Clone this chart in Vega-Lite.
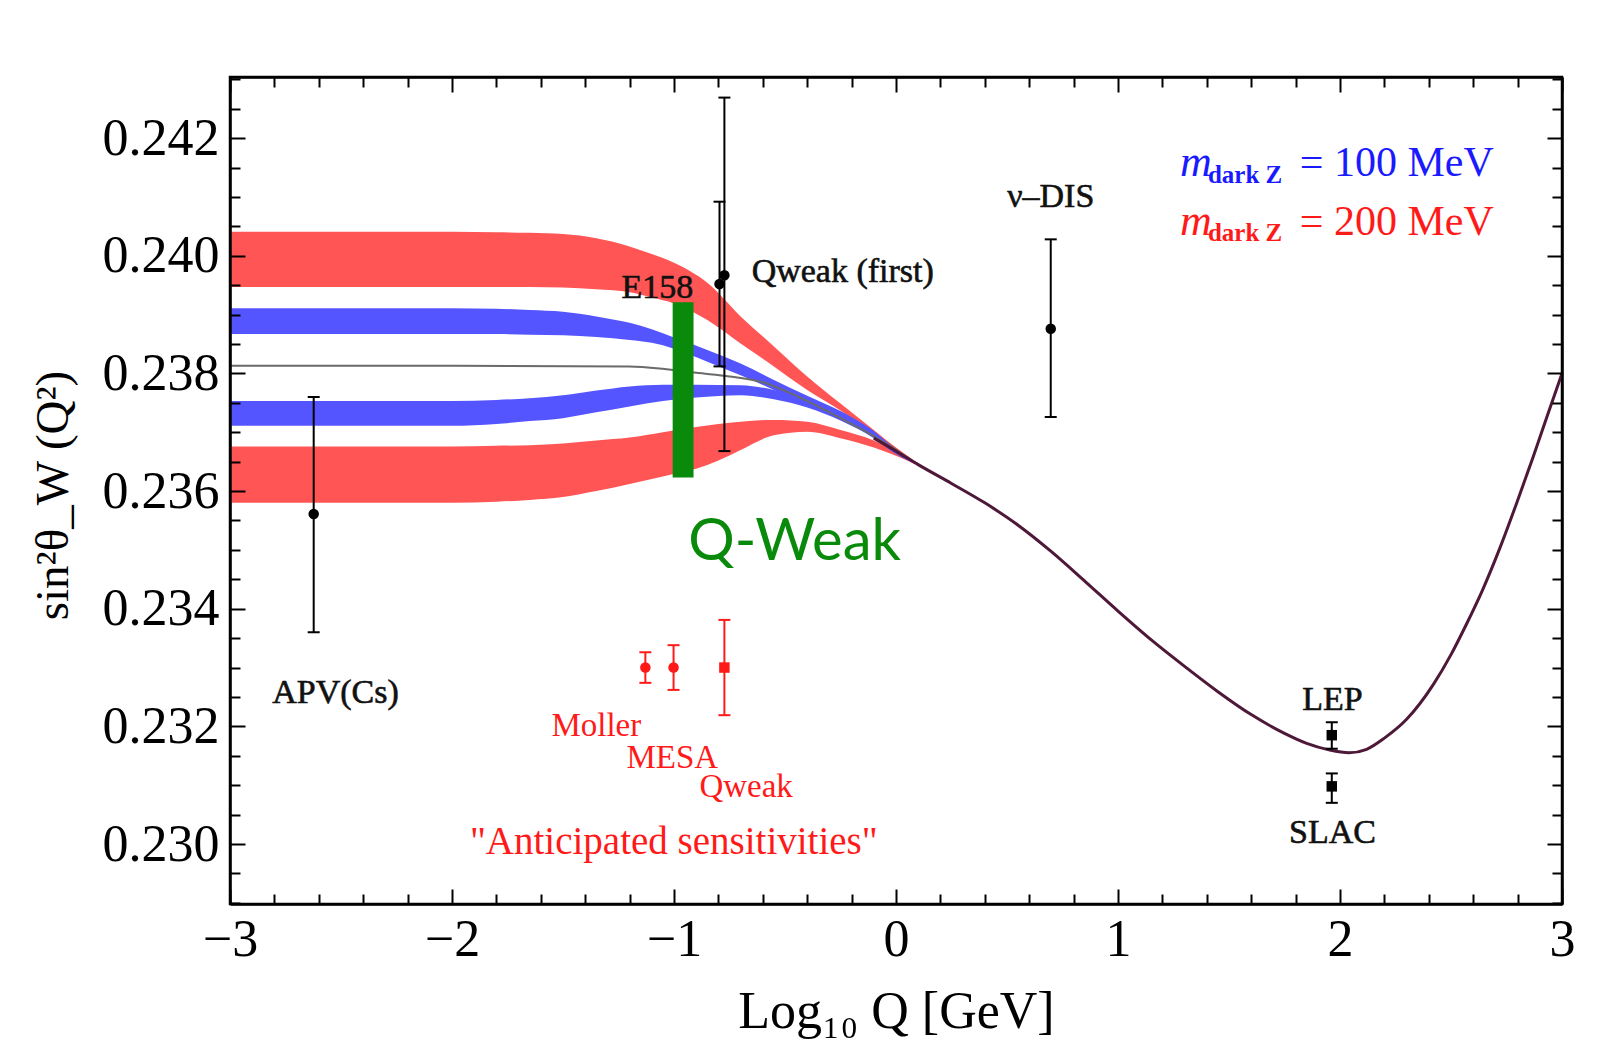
{
  "$schema": "https://vega.github.io/schema/vega-lite/v6.json",
  "width": 1332,
  "height": 827,
  "autosize": {"type": "none"},
  "padding": {"left": 230, "top": 77, "right": 48, "bottom": 160},
  "background": "white",
  "config": {
    "view": {"stroke": "black", "strokeWidth": 2.5},
    "font": "Liberation Serif"
  },
  "datasets": {
    "bands": [
      {"band": "RU", "x": -3, "lo": 0.23947, "hi": 0.24041},
      {"band": "RU", "x": -2.5, "lo": 0.23947, "hi": 0.24041},
      {"band": "RU", "x": -2, "lo": 0.23947, "hi": 0.24041},
      {"band": "RU", "x": -1.8, "lo": 0.23947, "hi": 0.2404},
      {"band": "RU", "x": -1.65, "lo": 0.23947, "hi": 0.24039},
      {"band": "RU", "x": -1.5, "lo": 0.23946, "hi": 0.24037},
      {"band": "RU", "x": -1.35, "lo": 0.23943, "hi": 0.2403},
      {"band": "RU", "x": -1.2, "lo": 0.23938, "hi": 0.24016},
      {"band": "RU", "x": -1.1, "lo": 0.23929, "hi": 0.24003},
      {"band": "RU", "x": -1.0, "lo": 0.23919, "hi": 0.23988},
      {"band": "RU", "x": -0.85, "lo": 0.23891, "hi": 0.23954},
      {"band": "RU", "x": -0.7, "lo": 0.23851, "hi": 0.23897},
      {"band": "RU", "x": -0.55, "lo": 0.23812, "hi": 0.23846},
      {"band": "RU", "x": -0.4, "lo": 0.23772, "hi": 0.23795},
      {"band": "RU", "x": -0.25, "lo": 0.23737, "hi": 0.23749},
      {"band": "RU", "x": -0.1, "lo": 0.23695, "hi": 0.23704},
      {"band": "RU", "x": 0, "lo": 0.23666, "hi": 0.23674},
      {"band": "RU", "x": 0.1, "lo": 0.23644, "hi": 0.23647},
      {"band": "RL", "x": -3, "lo": 0.2358, "hi": 0.23676},
      {"band": "RL", "x": -2.5, "lo": 0.2358, "hi": 0.23676},
      {"band": "RL", "x": -2, "lo": 0.2358, "hi": 0.23676},
      {"band": "RL", "x": -1.8, "lo": 0.23582, "hi": 0.23677},
      {"band": "RL", "x": -1.65, "lo": 0.23585, "hi": 0.23678},
      {"band": "RL", "x": -1.5, "lo": 0.2359, "hi": 0.23681},
      {"band": "RL", "x": -1.35, "lo": 0.236, "hi": 0.23686},
      {"band": "RL", "x": -1.2, "lo": 0.23612, "hi": 0.23691},
      {"band": "RL", "x": -1.05, "lo": 0.23625, "hi": 0.237},
      {"band": "RL", "x": -0.9, "lo": 0.23638, "hi": 0.23709},
      {"band": "RL", "x": -0.8, "lo": 0.23652, "hi": 0.23714},
      {"band": "RL", "x": -0.7, "lo": 0.2367, "hi": 0.23718},
      {"band": "RL", "x": -0.55, "lo": 0.23695, "hi": 0.23721},
      {"band": "RL", "x": -0.4, "lo": 0.23701, "hi": 0.23718},
      {"band": "RL", "x": -0.25, "lo": 0.2369, "hi": 0.23704},
      {"band": "RL", "x": -0.1, "lo": 0.23674, "hi": 0.23686},
      {"band": "RL", "x": 0, "lo": 0.2366, "hi": 0.23667},
      {"band": "RL", "x": 0.1, "lo": 0.23643, "hi": 0.23647},
      {"band": "BU", "x": -3, "lo": 0.23867, "hi": 0.23911},
      {"band": "BU", "x": -2.5, "lo": 0.23867, "hi": 0.23911},
      {"band": "BU", "x": -2, "lo": 0.23867, "hi": 0.23911},
      {"band": "BU", "x": -1.8, "lo": 0.23867, "hi": 0.2391},
      {"band": "BU", "x": -1.65, "lo": 0.23866, "hi": 0.23908},
      {"band": "BU", "x": -1.5, "lo": 0.23865, "hi": 0.23905},
      {"band": "BU", "x": -1.35, "lo": 0.23862, "hi": 0.23897},
      {"band": "BU", "x": -1.2, "lo": 0.23857, "hi": 0.23886},
      {"band": "BU", "x": -1.1, "lo": 0.23852, "hi": 0.23875},
      {"band": "BU", "x": -1.0, "lo": 0.23842, "hi": 0.23861},
      {"band": "BU", "x": -0.85, "lo": 0.2382, "hi": 0.2384},
      {"band": "BU", "x": -0.7, "lo": 0.23797, "hi": 0.23817},
      {"band": "BU", "x": -0.55, "lo": 0.23772, "hi": 0.23789},
      {"band": "BU", "x": -0.4, "lo": 0.23747, "hi": 0.23762},
      {"band": "BU", "x": -0.25, "lo": 0.23721, "hi": 0.23736},
      {"band": "BU", "x": -0.1, "lo": 0.23693, "hi": 0.23702},
      {"band": "BU", "x": 0, "lo": 0.23665, "hi": 0.23671},
      {"band": "BU", "x": 0.1, "lo": 0.23644, "hi": 0.23647},
      {"band": "BL", "x": -3, "lo": 0.23711, "hi": 0.23753},
      {"band": "BL", "x": -2.5, "lo": 0.23711, "hi": 0.23753},
      {"band": "BL", "x": -2, "lo": 0.23711, "hi": 0.23753},
      {"band": "BL", "x": -1.8, "lo": 0.23714, "hi": 0.23755},
      {"band": "BL", "x": -1.65, "lo": 0.23719, "hi": 0.23758},
      {"band": "BL", "x": -1.5, "lo": 0.23724, "hi": 0.23763},
      {"band": "BL", "x": -1.35, "lo": 0.23734, "hi": 0.23771},
      {"band": "BL", "x": -1.2, "lo": 0.23744, "hi": 0.23778},
      {"band": "BL", "x": -1.05, "lo": 0.23753, "hi": 0.23781},
      {"band": "BL", "x": -0.9, "lo": 0.23759, "hi": 0.23781},
      {"band": "BL", "x": -0.7, "lo": 0.23763, "hi": 0.2378},
      {"band": "BL", "x": -0.55, "lo": 0.23756, "hi": 0.23772},
      {"band": "BL", "x": -0.4, "lo": 0.23742, "hi": 0.23756},
      {"band": "BL", "x": -0.25, "lo": 0.2372, "hi": 0.23732},
      {"band": "BL", "x": -0.1, "lo": 0.2369, "hi": 0.23699},
      {"band": "BL", "x": 0, "lo": 0.23663, "hi": 0.23669},
      {"band": "BL", "x": 0.1, "lo": 0.23644, "hi": 0.23647}
    ],
    "smgray": [
      {"x": -3, "y": 0.23813}, {"x": -2, "y": 0.23813}, {"x": -1.2, "y": 0.23812},
      {"x": -1.05, "y": 0.23808}, {"x": -0.9, "y": 0.23801}, {"x": -0.75, "y": 0.23795},
      {"x": -0.6, "y": 0.23785}, {"x": -0.45, "y": 0.23762}, {"x": -0.3, "y": 0.23734},
      {"x": -0.15, "y": 0.23704}, {"x": 0, "y": 0.2367}, {"x": 0.05, "y": 0.23657}
    ],
    "sm": [
      {"x": -0.1, "y": 0.2369}, {"x": 0, "y": 0.23668}, {"x": 0.1, "y": 0.23645},
      {"x": 0.25, "y": 0.23613}, {"x": 0.4, "y": 0.2358}, {"x": 0.55, "y": 0.23542},
      {"x": 0.7, "y": 0.23497}, {"x": 0.85, "y": 0.23447}, {"x": 1.0, "y": 0.23396},
      {"x": 1.15, "y": 0.23347}, {"x": 1.3, "y": 0.23302}, {"x": 1.45, "y": 0.23259},
      {"x": 1.6, "y": 0.2322}, {"x": 1.75, "y": 0.23188}, {"x": 1.85, "y": 0.23171},
      {"x": 1.95, "y": 0.2316}, {"x": 2.04, "y": 0.23155}, {"x": 2.12, "y": 0.23161},
      {"x": 2.2, "y": 0.2318}, {"x": 2.3, "y": 0.23212}, {"x": 2.42, "y": 0.23271},
      {"x": 2.5, "y": 0.23322}, {"x": 2.57, "y": 0.23374}, {"x": 2.64, "y": 0.2343},
      {"x": 2.72, "y": 0.23503}, {"x": 2.8, "y": 0.23584}, {"x": 2.87, "y": 0.23658},
      {"x": 2.94, "y": 0.23735}, {"x": 3.0, "y": 0.238}
    ],
    "qbar": [{"x": -1.006, "x2": -0.912, "lo": 0.23623, "hi": 0.23921}],
    "errs": [
      {"name": "APV(Cs)", "x": -2.623, "y": 0.23561, "lo": 0.2336, "hi": 0.2376, "grp": "black", "shape": "circle"},
      {"name": "E158", "x": -0.795, "y": 0.23952, "lo": 0.23812, "hi": 0.24092, "grp": "black", "shape": "circle"},
      {"name": "Qweak (first)", "x": -0.773, "y": 0.23967, "lo": 0.23668, "hi": 0.24269, "grp": "black", "shape": "circle"},
      {"name": "nu-DIS", "x": 0.697, "y": 0.23876, "lo": 0.23726, "hi": 0.24028, "grp": "black", "shape": "circle"},
      {"name": "LEP", "x": 1.963, "y": 0.23185, "lo": 0.23162, "hi": 0.23207, "grp": "black", "shape": "square"},
      {"name": "SLAC", "x": 1.963, "y": 0.23098, "lo": 0.2307, "hi": 0.2312, "grp": "black", "shape": "square"},
      {"name": "Moller", "x": -1.129, "y": 0.233, "lo": 0.23274, "hi": 0.23326, "grp": "red", "shape": "circle"},
      {"name": "MESA", "x": -1.002, "y": 0.233, "lo": 0.23262, "hi": 0.23338, "grp": "red", "shape": "circle"},
      {"name": "Qweak", "x": -0.773, "y": 0.233, "lo": 0.23219, "hi": 0.23381, "grp": "red", "shape": "square"}
    ],
    "blacklabels": [
      {"x": -2.525, "y": 0.23256, "text": "APV(Cs)"},
      {"x": -1.075, "y": 0.23945, "text": "E158"},
      {"x": -0.24, "y": 0.23973, "text": "Qweak (first)"},
      {"x": 0.697, "y": 0.241, "text": "ν–DIS"},
      {"x": 1.966, "y": 0.23244, "text": "LEP"},
      {"x": 1.966, "y": 0.23018, "text": "SLAC"}
    ],
    "redlabels": [
      {"x": -1.35, "y": 0.232, "text": "Moller"},
      {"x": -1.008, "y": 0.23147, "text": "MESA"},
      {"x": -0.675, "y": 0.23097, "text": "Qweak"}
    ],
    "anticip": [{"x": -1.001, "y": 0.23004, "text": "\"Anticipated sensitivities\""}],
    "qweaktext": [{"x": -0.936, "y": 0.23483, "text": "Q-Weak"}],
    "legend": [
      {"part": "m", "grp": "blue", "x": 1.279, "y": 0.24135, "text": "m"},
      {"part": "sub", "grp": "blue", "x": 1.405, "y": 0.24124, "text": "dark Z"},
      {"part": "eq", "grp": "blue", "x": 1.819, "y": 0.24135, "text": "= 100 MeV"},
      {"part": "m", "grp": "red", "x": 1.279, "y": 0.24036, "text": "m"},
      {"part": "sub", "grp": "red", "x": 1.405, "y": 0.24025, "text": "dark Z"},
      {"part": "eq", "grp": "red", "x": 1.819, "y": 0.24036, "text": "= 200 MeV"}
    ],
    "frame": [{"x": 0, "y": 0.236}]
  },
  "layer": [
    {
      "data": {"name": "bands"},
      "transform": [{"filter": "datum.band === 'RU' || datum.band === 'RL'"}],
      "mark": {"type": "area", "color": "#ff5555", "interpolate": "monotone", "opacity": 1},
      "encoding": {
        "x": {
          "field": "x", "type": "quantitative",
          "scale": {"domain": [-3, 3], "nice": false, "zero": false},
          "axis": {
            "orient": "bottom",
            "values": [-3, -2.8, -2.6, -2.4, -2.2, -2, -1.8, -1.6, -1.4, -1.2, -1, -0.8, -0.6, -0.4, -0.2, 0, 0.2, 0.4, 0.6, 0.8, 1, 1.2, 1.4, 1.6, 1.8, 2, 2.2, 2.4, 2.6, 2.8, 3],
            "labelExpr": "abs(datum.value - round(datum.value)) < 0.01 ? format(datum.value, 'd') : ''",
            "labelOverlap": false,
            "labelFlush": false,
            "tickSize": {"condition": {"test": "abs(datum.value - round(datum.value)) < 0.01", "value": -15}, "value": -10},
            "tickColor": "black",
            "tickWidth": 2,
            "domain": true,
            "domainColor": "black",
            "domainWidth": 2.5,
            "grid": false,
            "labelFont": "Liberation Serif",
            "labelFontSize": 52,
            "labelColor": "black",
            "labelPadding": 25,
            "title": "Log₁₀ Q [GeV]",
            "titleFont": "Liberation Serif",
            "titleFontSize": 52,
            "titleFontWeight": "normal",
            "titleColor": "black",
            "titleY": 123,
            "titleBaseline": "alphabetic",
            "zindex": 1
          }
        },
        "y": {
          "field": "hi", "type": "quantitative",
          "scale": {"domain": [0.22898, 0.24304], "nice": false, "zero": false},
          "axis": {
            "orient": "left",
            "values": [0.229, 0.2295, 0.23, 0.2305, 0.231, 0.2315, 0.232, 0.2325, 0.233, 0.2335, 0.234, 0.2345, 0.235, 0.2355, 0.236, 0.2365, 0.237, 0.2375, 0.238, 0.2385, 0.239, 0.2395, 0.24, 0.2405, 0.241, 0.2415, 0.242, 0.2425, 0.243],
            "labelExpr": "abs(datum.value * 500 - round(datum.value * 500)) < 0.01 ? format(datum.value, '.3f') : ''",
            "labelOverlap": false,
            "labelFlush": false,
            "tickSize": {"condition": {"test": "abs(datum.value * 500 - round(datum.value * 500)) < 0.01", "value": -15}, "value": -10},
            "tickColor": "black",
            "tickWidth": 2,
            "domain": true,
            "domainColor": "black",
            "domainWidth": 2.5,
            "grid": false,
            "labelFont": "Liberation Serif",
            "labelFontSize": 52,
            "labelColor": "black",
            "labelPadding": 26,
            "title": "sin²θ_W (Q²)",
            "titleFont": "Liberation Serif",
            "titleFontSize": 47,
            "titleFontWeight": "normal",
            "titleColor": "black",
            "titleAngle": -90,
            "titleX": -163,
            "titleY": 418,
            "titleAlign": "center",
            "titleBaseline": "alphabetic",
            "zindex": 1
          }
        },
        "y2": {"field": "lo"},
        "detail": {"field": "band"}
      }
    },
    {
      "data": {"name": "bands"},
      "transform": [{"filter": "datum.band === 'BU' || datum.band === 'BL'"}],
      "mark": {"type": "area", "color": "#5555ff", "interpolate": "monotone", "opacity": 1},
      "encoding": {
        "x": {"field": "x", "type": "quantitative", "scale": {"domain": [-3, 3], "nice": false, "zero": false}, "axis": null},
        "y": {"field": "hi", "type": "quantitative", "scale": {"domain": [0.22898, 0.24304], "nice": false, "zero": false}, "axis": null},
        "y2": {"field": "lo"},
        "detail": {"field": "band"}
      }
    },
    {
      "data": {"name": "smgray"},
      "mark": {"type": "line", "color": "#6a6a6a", "strokeWidth": 2, "interpolate": "monotone"},
      "encoding": {
        "x": {"field": "x", "type": "quantitative", "scale": {"domain": [-3, 3], "nice": false, "zero": false}, "axis": null},
        "y": {"field": "y", "type": "quantitative", "scale": {"domain": [0.22898, 0.24304], "nice": false, "zero": false}, "axis": null}
      }
    },
    {
      "data": {"name": "qbar"},
      "mark": {"type": "rect", "color": "#0a8a0a"},
      "encoding": {
        "x": {"field": "x", "type": "quantitative", "scale": {"domain": [-3, 3], "nice": false, "zero": false}, "axis": null},
        "x2": {"field": "x2"},
        "y": {"field": "hi", "type": "quantitative", "scale": {"domain": [0.22898, 0.24304], "nice": false, "zero": false}, "axis": null},
        "y2": {"field": "lo"}
      }
    },
    {
      "data": {"name": "sm"},
      "mark": {"type": "line", "color": "#4e1838", "strokeWidth": 3, "interpolate": "monotone"},
      "encoding": {
        "x": {"field": "x", "type": "quantitative", "scale": {"domain": [-3, 3], "nice": false, "zero": false}, "axis": null},
        "y": {"field": "y", "type": "quantitative", "scale": {"domain": [0.22898, 0.24304], "nice": false, "zero": false}, "axis": null}
      }
    },
    {
      "data": {"name": "errs"},
      "mark": {"type": "rule", "strokeWidth": 2},
      "encoding": {
        "x": {"field": "x", "type": "quantitative", "scale": {"domain": [-3, 3], "nice": false, "zero": false}, "axis": null},
        "y": {"field": "lo", "type": "quantitative", "scale": {"domain": [0.22898, 0.24304], "nice": false, "zero": false}, "axis": null},
        "y2": {"field": "hi"},
        "color": {"field": "grp", "type": "nominal", "scale": {"domain": ["black", "red", "blue"], "range": ["#000000", "#ff1a1a", "#1a1aff"]}, "legend": null}
      }
    },
    {
      "data": {"name": "errs"},
      "mark": {"type": "tick", "orient": "horizontal", "size": 12, "thickness": 2, "opacity": 1},
      "encoding": {
        "x": {"field": "x", "type": "quantitative", "scale": {"domain": [-3, 3], "nice": false, "zero": false}, "axis": null},
        "y": {"field": "lo", "type": "quantitative", "scale": {"domain": [0.22898, 0.24304], "nice": false, "zero": false}, "axis": null},
        "color": {"field": "grp", "type": "nominal", "scale": {"domain": ["black", "red", "blue"], "range": ["#000000", "#ff1a1a", "#1a1aff"]}, "legend": null}
      }
    },
    {
      "data": {"name": "errs"},
      "mark": {"type": "tick", "orient": "horizontal", "size": 12, "thickness": 2, "opacity": 1},
      "encoding": {
        "x": {"field": "x", "type": "quantitative", "scale": {"domain": [-3, 3], "nice": false, "zero": false}, "axis": null},
        "y": {"field": "hi", "type": "quantitative", "scale": {"domain": [0.22898, 0.24304], "nice": false, "zero": false}, "axis": null},
        "color": {"field": "grp", "type": "nominal", "scale": {"domain": ["black", "red", "blue"], "range": ["#000000", "#ff1a1a", "#1a1aff"]}, "legend": null}
      }
    },
    {
      "data": {"name": "errs"},
      "mark": {"type": "point", "filled": true, "size": 110, "opacity": 1},
      "encoding": {
        "x": {"field": "x", "type": "quantitative", "scale": {"domain": [-3, 3], "nice": false, "zero": false}, "axis": null},
        "y": {"field": "y", "type": "quantitative", "scale": {"domain": [0.22898, 0.24304], "nice": false, "zero": false}, "axis": null},
        "color": {"field": "grp", "type": "nominal", "scale": {"domain": ["black", "red", "blue"], "range": ["#000000", "#ff1a1a", "#1a1aff"]}, "legend": null},
        "shape": {"field": "shape", "type": "nominal", "scale": {"domain": ["circle", "square"], "range": ["circle", "square"]}, "legend": null}
      }
    },
    {
      "data": {"name": "blacklabels"},
      "mark": {"type": "text", "font": "Liberation Serif", "fontSize": 34, "color": "#111111", "align": "center", "baseline": "middle", "stroke": "#111111", "strokeWidth": 0.6},
      "encoding": {
        "x": {"field": "x", "type": "quantitative", "scale": {"domain": [-3, 3], "nice": false, "zero": false}, "axis": null},
        "y": {"field": "y", "type": "quantitative", "scale": {"domain": [0.22898, 0.24304], "nice": false, "zero": false}, "axis": null},
        "text": {"field": "text"}
      }
    },
    {
      "data": {"name": "redlabels"},
      "mark": {"type": "text", "font": "Liberation Serif", "fontSize": 33, "color": "#ff1a1a", "align": "center", "baseline": "middle"},
      "encoding": {
        "x": {"field": "x", "type": "quantitative", "scale": {"domain": [-3, 3], "nice": false, "zero": false}, "axis": null},
        "y": {"field": "y", "type": "quantitative", "scale": {"domain": [0.22898, 0.24304], "nice": false, "zero": false}, "axis": null},
        "text": {"field": "text"}
      }
    },
    {
      "data": {"name": "anticip"},
      "mark": {"type": "text", "font": "Liberation Serif", "fontSize": 39, "color": "#ff1a1a", "align": "center", "baseline": "middle"},
      "encoding": {
        "x": {"field": "x", "type": "quantitative", "scale": {"domain": [-3, 3], "nice": false, "zero": false}, "axis": null},
        "y": {"field": "y", "type": "quantitative", "scale": {"domain": [0.22898, 0.24304], "nice": false, "zero": false}, "axis": null},
        "text": {"field": "text"}
      }
    },
    {
      "data": {"name": "qweaktext"},
      "mark": {"type": "text", "font": "Lato", "fontSize": 58, "color": "#0a8a0a", "align": "left", "baseline": "alphabetic"},
      "encoding": {
        "x": {"field": "x", "type": "quantitative", "scale": {"domain": [-3, 3], "nice": false, "zero": false}, "axis": null},
        "y": {"field": "y", "type": "quantitative", "scale": {"domain": [0.22898, 0.24304], "nice": false, "zero": false}, "axis": null},
        "text": {"field": "text"}
      }
    },
    {
      "data": {"name": "legend"},
      "transform": [{"filter": "datum.part === 'm'"}],
      "mark": {"type": "text", "font": "Liberation Serif", "fontSize": 44, "fontStyle": "italic", "align": "left", "baseline": "alphabetic"},
      "encoding": {
        "x": {"field": "x", "type": "quantitative", "scale": {"domain": [-3, 3], "nice": false, "zero": false}, "axis": null},
        "y": {"field": "y", "type": "quantitative", "scale": {"domain": [0.22898, 0.24304], "nice": false, "zero": false}, "axis": null},
        "text": {"field": "text"},
        "color": {"field": "grp", "type": "nominal", "scale": {"domain": ["black", "red", "blue"], "range": ["#000000", "#ff1a1a", "#1a1aff"]}, "legend": null}
      }
    },
    {
      "data": {"name": "legend"},
      "transform": [{"filter": "datum.part === 'sub'"}],
      "mark": {"type": "text", "font": "Liberation Serif", "fontSize": 25, "fontWeight": "bold", "align": "left", "baseline": "alphabetic"},
      "encoding": {
        "x": {"field": "x", "type": "quantitative", "scale": {"domain": [-3, 3], "nice": false, "zero": false}, "axis": null},
        "y": {"field": "y", "type": "quantitative", "scale": {"domain": [0.22898, 0.24304], "nice": false, "zero": false}, "axis": null},
        "text": {"field": "text"},
        "color": {"field": "grp", "type": "nominal", "scale": {"domain": ["black", "red", "blue"], "range": ["#000000", "#ff1a1a", "#1a1aff"]}, "legend": null}
      }
    },
    {
      "data": {"name": "legend"},
      "transform": [{"filter": "datum.part === 'eq'"}],
      "mark": {"type": "text", "font": "Liberation Serif", "fontSize": 42, "align": "left", "baseline": "alphabetic"},
      "encoding": {
        "x": {"field": "x", "type": "quantitative", "scale": {"domain": [-3, 3], "nice": false, "zero": false}, "axis": null},
        "y": {"field": "y", "type": "quantitative", "scale": {"domain": [0.22898, 0.24304], "nice": false, "zero": false}, "axis": null},
        "text": {"field": "text"},
        "color": {"field": "grp", "type": "nominal", "scale": {"domain": ["black", "red", "blue"], "range": ["#000000", "#ff1a1a", "#1a1aff"]}, "legend": null}
      }
    },
    {
      "data": {"name": "frame"},
      "mark": {"type": "point", "opacity": 0},
      "encoding": {
        "x": {
          "field": "x", "type": "quantitative",
          "scale": {"domain": [-3, 3], "nice": false, "zero": false},
          "axis": {
            "orient": "top",
            "values": [-3, -2.8, -2.6, -2.4, -2.2, -2, -1.8, -1.6, -1.4, -1.2, -1, -0.8, -0.6, -0.4, -0.2, 0, 0.2, 0.4, 0.6, 0.8, 1, 1.2, 1.4, 1.6, 1.8, 2, 2.2, 2.4, 2.6, 2.8, 3],
            "labels": false,
            "title": null,
            "tickSize": {"condition": {"test": "abs(datum.value - round(datum.value)) < 0.01", "value": -15}, "value": -10},
            "tickColor": "black",
            "tickWidth": 2,
            "domain": true,
            "domainColor": "black",
            "domainWidth": 2.5,
            "grid": false,
            "zindex": 1
          }
        },
        "y": {
          "field": "y", "type": "quantitative",
          "scale": {"domain": [0.22898, 0.24304], "nice": false, "zero": false},
          "axis": {
            "orient": "right",
            "values": [0.229, 0.2295, 0.23, 0.2305, 0.231, 0.2315, 0.232, 0.2325, 0.233, 0.2335, 0.234, 0.2345, 0.235, 0.2355, 0.236, 0.2365, 0.237, 0.2375, 0.238, 0.2385, 0.239, 0.2395, 0.24, 0.2405, 0.241, 0.2415, 0.242, 0.2425, 0.243],
            "labels": false,
            "title": null,
            "tickSize": {"condition": {"test": "abs(datum.value * 500 - round(datum.value * 500)) < 0.01", "value": -15}, "value": -10},
            "tickColor": "black",
            "tickWidth": 2,
            "domain": true,
            "domainColor": "black",
            "domainWidth": 2.5,
            "grid": false,
            "zindex": 1
          }
        }
      }
    }
  ],
  "resolve": {"axis": {"x": "independent", "y": "independent"}}
}
